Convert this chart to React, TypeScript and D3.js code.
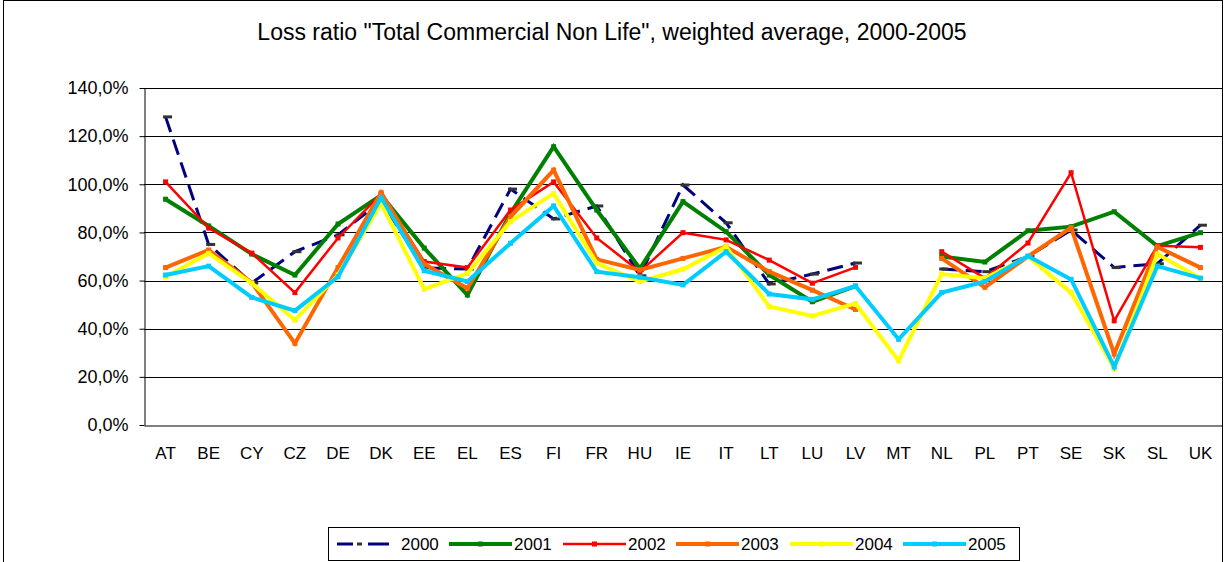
import React, { useEffect, useRef } from "react";
import * as d3 from "d3";

const countries = ["AT", "BE", "CY", "CZ", "DE", "DK", "EE", "EL", "ES", "FI", "FR", "HU", "IE", "IT", "LT", "LU", "LV", "MT", "NL", "PL", "PT", "SE", "SK", "SL", "UK"];
const years = ["2000", "2001", "2002", "2003", "2004", "2005"];

// loss ratio in %, null = no data
const y2000 = [128, 75, 59, 72, 79, 93, 65.3, 64.8, 98, 85.6, 91, 62, 99.7, 84, 58.6, 62.7, 67.3, null, 64.8, 63.7, 70, 81, 65.4, 67, 83];
const y2001 = [93.8, 82.7, 71, 62.3, 83.5, 95.5, 73.5, 54, 88, 115.6, 89.3, 65, 92.8, 80.3, 62.3, 51.2, 57.7, null, 70, 67.7, 80.7, 82.4, 88.6, 74.3, 79.9];
const y2002 = [101, 81.8, 71.4, 55, 77.7, 96, 67.9, 65.4, 89.3, 101, 77.7, 63.7, 79.9, 76.9, 68.5, 58.9, 65.5, null, 72, 61, 75.6, 104.8, 43.3, 74.5, 73.8];
const y2003 = [65.4, 72.7, 59.1, 33.9, 65.4, 96.5, 66.9, 56.8, 86.5, 105.9, 68.8, 64.4, 69.2, 74, 63.7, 56, 48, null, 69.2, 57.2, 70, 82, 29.5, 74, 65.4];
const y2004 = [61.6, 71.3, 58.9, 43.6, 62.3, 92, 56.4, 63, 84.5, 96.2, 67.2, 59.6, 64.7, 74, 49.2, 45.3, 50.5, 26.7, 62.7, 61, 70, 55, 23.5, 71, 61];
const y2005 = [62.3, 66, 53, 47.5, 61.6, 94.5, 64.1, 59.6, 75.5, 91, 63.7, 61.4, 58.2, 72, 54.4, 52.2, 57.7, 35.6, 55, 59.6, 70.2, 60.5, 24.2, 66, 61];
const yTicks = [0, 20, 40, 60, 80, 100, 120, 140];

const seriesValues = [y2000, y2001, y2002, y2003, y2004, y2005];
const colors = ["#000080", "#008000", "#ff0000", "#ff6600", "#ffff00", "#00ccff"];
const widths = [3, 4, 2.5, 4, 4, 4];
const markerColors = ["#333333", "#008000", "#ff0000", "#ff6600", "#ffff00", "#00ccff"];

const W = 1225;
const H = 562;
const FONT = "Arial, 'Liberation Sans', sans-serif";

export default function App() {
  const ref = useRef<SVGSVGElement>(null);

  useEffect(() => {
    const svg = d3.select(ref.current);
    svg.selectAll("*").remove();

    const left = 144, right = 1222, top = 88, bottom = 425;

    const x = d3.scaleBand().domain(countries).range([left, right]);
    const y = d3.scaleLinear().domain([0, 140]).range([bottom, top]);

    // outer border
    svg.append("rect").attr("x", 3.5).attr("y", 0.5).attr("width", 1219).attr("height", 570)
      .attr("fill", "white").attr("stroke", "#000").attr("stroke-width", 1);

    svg.append("text")
      .attr("x", 612).attr("y", 40)
      .attr("text-anchor", "middle")
      .style("font-family", FONT)
      .style("font-size", "23px")
      .text('Loss ratio "Total Commercial Non Life", weighted average, 2000-2005');

    // grid
    svg.append("g").selectAll("line").data(yTicks.filter(d => d > 0)).join("line")
      .attr("x1", left).attr("x2", right)
      .attr("y1", d => Math.round(y(d)) + 0.5).attr("y2", d => Math.round(y(d)) + 0.5)
      .attr("stroke", "#000").attr("stroke-width", 1);

    // y axis
    const yAxis = d3.axisLeft(y).tickValues(yTicks).tickSize(5).tickSizeOuter(0)
      .tickFormat(d => d3.format(".1f")(d as number).replace(".", ",") + "%");
    const gy = svg.append("g").attr("transform", `translate(${left + 0.5},0)`).call(yAxis);
    gy.selectAll("text").style("font-family", FONT).style("font-size", "18px").attr("x", -16);
    gy.select(".domain").attr("stroke", "#000");

    // x axis
    const xAxis = d3.axisBottom(x).tickSize(0).tickSizeOuter(0);
    const gx = svg.append("g").attr("transform", `translate(0,${Math.round(bottom) + 0.5})`).call(xAxis);
    gx.selectAll("text").style("font-family", FONT).style("font-size", "17px").attr("y", 33).attr("dy", 0);
    gx.select(".domain").attr("stroke", "#000");

    const cx = (i: number) => (x(countries[i]) as number) + x.bandwidth() / 2;

    seriesValues.forEach((vals, s) => {
      const pts = vals.map((v, i) => ({ i, v }));
      const line = d3.line<{ i: number; v: number | null }>()
        .defined(d => d.v !== null)
        .x(d => cx(d.i))
        .y(d => y(d.v as number));
      svg.append("path")
        .attr("d", line(pts))
        .attr("fill", "none")
        .attr("stroke", colors[s])
        .attr("stroke-width", widths[s])
        .attr("stroke-linejoin", "miter")
        .attr("stroke-dasharray", s === 0 ? "16,8" : null);
      const m = 5;
      svg.append("g").selectAll("rect").data(pts.filter(d => d.v !== null)).join("rect")
        .attr("x", d => cx(d.i) - m / 2)
        .attr("y", d => y(d.v as number) - (s === 0 ? 1.5 : m / 2))
        .attr("width", s === 0 ? 9 : m)
        .attr("height", s === 0 ? 3 : m)
        .attr("fill", markerColors[s]);
    });

    // legend
    const lg = svg.append("g");
    lg.append("rect").attr("x", 328.5).attr("y", 527.5).attr("width", 691).attr("height", 33)
      .attr("fill", "white").attr("stroke", "#000");
    const itemX = [337, 449, 563, 676, 790, 903];
    const ly = 544;
    years.forEach((yr, s) => {
      const x0 = itemX[s];
      const len = s === 0 ? 52 : 63;
      lg.append("line").attr("x1", x0).attr("x2", x0 + len).attr("y1", ly).attr("y2", ly)
        .attr("stroke", colors[s]).attr("stroke-width", widths[s])
        .attr("stroke-dasharray", s === 0 ? "16,15,21" : null);
      lg.append("rect").attr("x", x0 + (s === 0 ? 20 : 29)).attr("y", ly - (s === 0 ? 1.5 : 2.5))
        .attr("width", 5).attr("height", s === 0 ? 3 : 5).attr("fill", markerColors[s]);
      lg.append("text").attr("x", s === 0 ? 401 : x0 + len + 2).attr("y", ly + 6)
        .style("font-family", FONT).style("font-size", "17px")
        .text(yr);
    });
  }, []);

  return (
    <div style={{ position: "fixed", left: 0, top: 0 }}>
      <svg ref={ref} width={W} height={H} style={{ display: "block", background: "white" }} />
    </div>
  );
}
